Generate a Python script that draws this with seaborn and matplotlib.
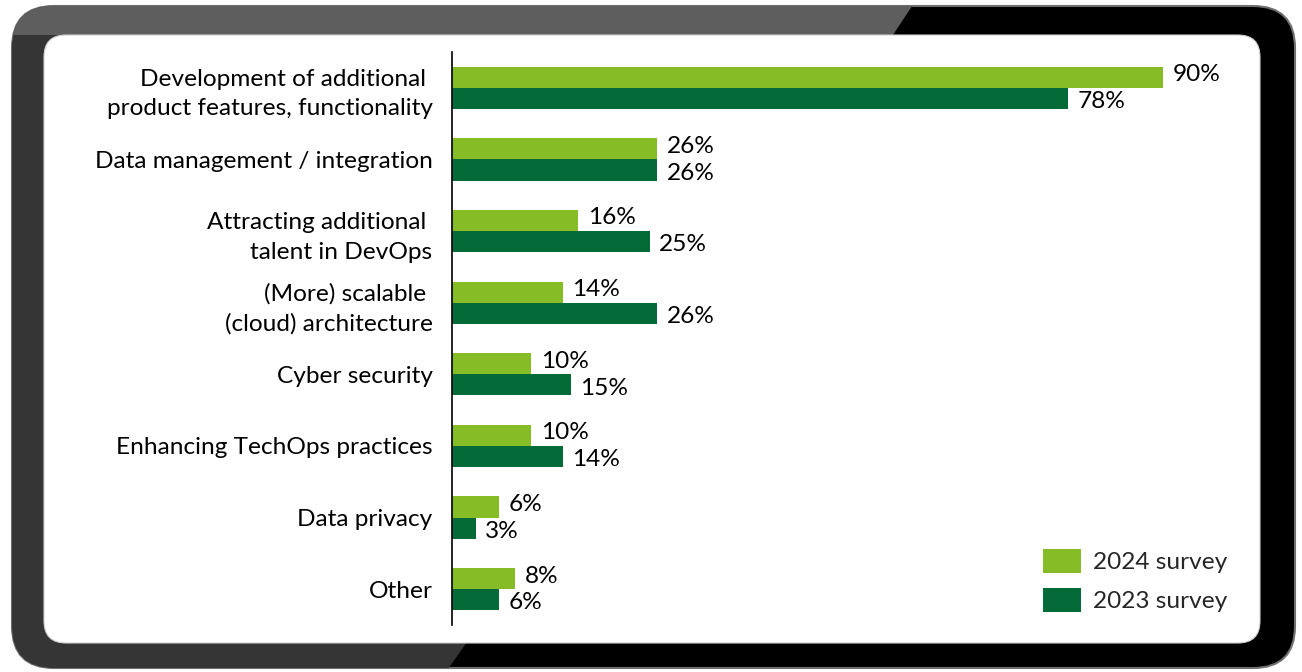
import numpy as np
import pandas as pd
import matplotlib
matplotlib.use("Agg")
import matplotlib.pyplot as plt
import seaborn as sns
from matplotlib.patches import FancyBboxPatch, Polygon, Patch

categories = [
    "Development of additional \nproduct features, functionality",
    "Data management / integration",
    "Attracting additional \ntalent in DevOps",
    "(More) scalable \n(cloud) architecture",
    "Cyber security",
    "Enhancing TechOps practices",
    "Data privacy",
    "Other",
]
survey_2024 = [90, 26, 16, 14, 10, 10, 6, 8]
survey_2023 = [78, 26, 25, 26, 15, 14, 3, 6]
series_names = ["2024 survey", "2023 survey"]
series_colors = ["#86BC25", "#046A38"]

sns.set_theme(style="white")
plt.rcParams["font.family"] = ["Lato", "DejaVu Sans"]
fs = 17.6

W, H = 1302, 672
fig = plt.figure(figsize=(W / 100, H / 100), dpi=100)

# tablet-style frame drawn in pixel coordinates behind the chart
bg = fig.add_axes([0, 0, 1, 1], zorder=0)
bg.set_xlim(0, W)
bg.set_ylim(H, 0)
bg.axis("off")
outer = FancyBboxPatch((12, 6), 1283, 662, boxstyle="round,pad=0,rounding_size=42",
                       facecolor="#000000", edgecolor="#707070", linewidth=1.5)
bg.add_patch(outer)
gray = Polygon([(0, 0), (916, 0), (446, H), (0, H)], closed=True,
               facecolor="#353535", edgecolor="none")
bg.add_patch(gray)
gray.set_clip_path(outer)
top_band = Polygon([(0, 0), (916, 0), (893, 35), (0, 35)], closed=True,
                   facecolor="#5e5e5e", edgecolor="none")
bg.add_patch(top_band)
top_band.set_clip_path(outer)
screen = FancyBboxPatch((44, 35), 1216, 608, boxstyle="round,pad=0,rounding_size=22",
                        facecolor="white", edgecolor="#cfcfcf", linewidth=0.8)
bg.add_patch(screen)

# grouped horizontal bars
ax = fig.add_axes([452 / W, 1 - 625 / H, 790 / W, 573 / H], zorder=1)
ax.patch.set_alpha(0)
df = pd.DataFrame({
    "category": categories * 2,
    "value": survey_2024 + survey_2023,
    "survey": [series_names[0]] * len(categories) + [series_names[1]] * len(categories),
})
sns.barplot(data=df, y="category", x="value", hue="survey", orient="h",
            palette=series_colors, saturation=1, width=0.59, ax=ax,
            legend=False, edgecolor="none", linewidth=0)
ax.set_xlim(0, 100)
ax.set_ylim(7.5, -0.5)

for cont, vals, dy in zip(ax.containers, [survey_2024, survey_2023], [1.8, -2.3]):
    for bar, v in zip(cont, vals):
        yc = bar.get_y() + bar.get_height() / 2
        ax.annotate(f"{v}%", xy=(v, yc), xytext=(7, dy), textcoords="offset points",
                    ha="left", va="center", fontsize=fs, color="black")

for side in ["top", "right", "bottom"]:
    ax.spines[side].set_visible(False)
ax.spines["left"].set_color("black")
ax.spines["left"].set_linewidth(1.2)
ax.set_xticks([])
ax.set_xlabel("")
ax.set_ylabel("")
ax.tick_params(axis="y", length=0, pad=14, labelsize=fs, labelcolor="black")
for lbl in ax.get_yticklabels():
    lbl.set_linespacing(1.5)

handles = [Patch(facecolor=c, edgecolor="none", label=n) for c, n in zip(series_colors, series_names)]
fig.legend(handles=handles, loc="lower left", bbox_to_anchor=(1043 / W, 1 - 612 / H),
           frameon=False, fontsize=fs, handlelength=1.56, handleheight=1.15,
           handletextpad=0.5, labelspacing=0.6, borderpad=0, borderaxespad=0)

fig.savefig("out.png", dpi=100)
